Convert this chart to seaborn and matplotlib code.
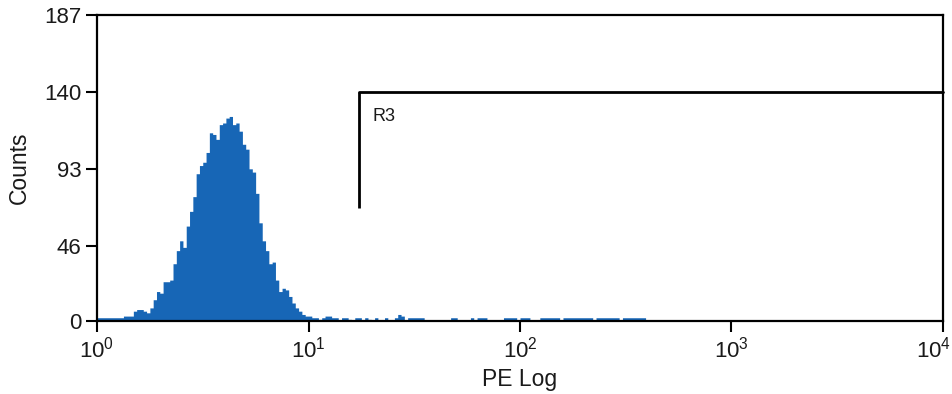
import numpy as np
import pandas as pd
import matplotlib
matplotlib.use("Agg")
import matplotlib.pyplot as plt
import matplotlib.transforms as mtransforms
import seaborn as sns

# ---- data (256 log channels over 4 decades) ----
n_channels = 256
decades = 4
peak_counts = [2, 2, 2, 2, 2, 2, 2, 2, 3, 3, 3, 6, 7, 7, 6, 5, 8, 13, 18, 17,
               24, 24, 25, 35, 43, 49, 45, 58, 67, 76, 90, 95, 97, 103, 115, 114, 111, 120, 121, 124,
               125, 120, 121, 116, 108, 105, 93, 91, 78, 60, 49, 43, 35, 36, 25, 18, 20, 19, 15, 11,
               8, 6, 4, 3, 3, 2, 2, 1, 2, 3]
tail_channels = [70, 71, 72, 74, 75, 76, 78, 79, 81, 82, 84, 87, 90, 91, 92, 94, 95, 96, 97, 98,
                 107, 108, 113, 115, 116, 117, 123, 124, 125, 126, 128, 129, 130,
                 134, 135, 136, 137, 138, 139, 141, 142, 143, 144, 145, 146, 147, 148, 149,
                 151, 152, 153, 154, 155, 156, 157, 159, 160, 161, 162, 163, 164, 165]
tail_counts = [3, 2, 2, 2, 2, 1, 2, 2, 2, 1, 2, 2, 2, 4, 3, 2, 2, 2, 2, 2,
               2, 2, 2, 2, 2, 2, 2, 2, 2, 2, 2, 2, 2,
               2, 2, 2, 2, 2, 2, 2, 2, 2, 2, 2, 2, 2, 2, 2,
               2, 2, 2, 2, 2, 2, 2, 2, 2, 2, 2, 2, 2, 2]
y_ticks = [0, 46, 93, 140, 187]
x_tick_labels = [r"$10^{0}$", r"$10^{1}$", r"$10^{2}$", r"$10^{3}$", r"$10^{4}$"]
gate_name = "R3"
gate_start = 17.3      # PE value of gate start
gate_level = 140       # counts level of gate top
gate_bottom = 69

counts = np.zeros(n_channels)
counts[:len(peak_counts)] = peak_counts
counts[tail_channels] = tail_counts
centers = (np.arange(n_channels) + 0.5) * decades / n_channels
df = pd.DataFrame({"pe_log": centers, "count": counts})

# ---- style ----
sns.set_style("ticks")
plt.rcParams["font.family"] = ["Liberation Sans", "DejaVu Sans"]
plt.rcParams["mathtext.fontset"] = "custom"
plt.rcParams["mathtext.rm"] = "Liberation Sans"
plt.rcParams["mathtext.it"] = "Liberation Sans"
plt.rcParams["text.color"] = "#1a1a1a"
plt.rcParams["axes.labelcolor"] = "#1a1a1a"
plt.rcParams["xtick.labelcolor"] = "#1a1a1a"
plt.rcParams["ytick.labelcolor"] = "#1a1a1a"

fig = plt.figure(figsize=(9.53, 3.94), dpi=100)
ax = fig.add_axes([97 / 953, 1 - 321 / 394, 846 / 953, 306 / 394])

sns.histplot(data=df, x="pe_log", weights="count", bins=n_channels, binrange=(0, decades),
             element="step", fill=True, color="#1766b6", alpha=1, linewidth=0, ax=ax)

ax.set_xlim(0, decades)
ax.set_ylim(0, 187)
ax.set_xticks(range(decades + 1))
ax.set_xticklabels(x_tick_labels)
ax.set_yticks(y_ticks)
ax.tick_params(axis="both", labelsize=16, length=8, width=1.5, color="black", pad=3)
for s in ax.spines.values():
    s.set_color("black")
    s.set_linewidth(1.6)
ax.set_xlabel("PE Log", fontsize=16.5, labelpad=4)
ax.set_ylabel("Counts", fontsize=16.5, labelpad=10)

# keep last tick label inside the figure
last = ax.get_xticklabels()[-1]
last.set_transform(last.get_transform() + mtransforms.ScaledTranslation(-9 / 100, 0, fig.dpi_scale_trans))

# gate marker
gx = np.log10(gate_start)
ax.plot([gx, gx], [gate_bottom, gate_level], color="black", lw=2, solid_capstyle="butt")
ax.plot([gx, decades], [gate_level, gate_level], color="black", lw=2, clip_on=False)
ax.text(gx + 0.065, gate_level - 15, gate_name, fontsize=13, va="center", ha="left")

fig.savefig("out.png", dpi=100)
